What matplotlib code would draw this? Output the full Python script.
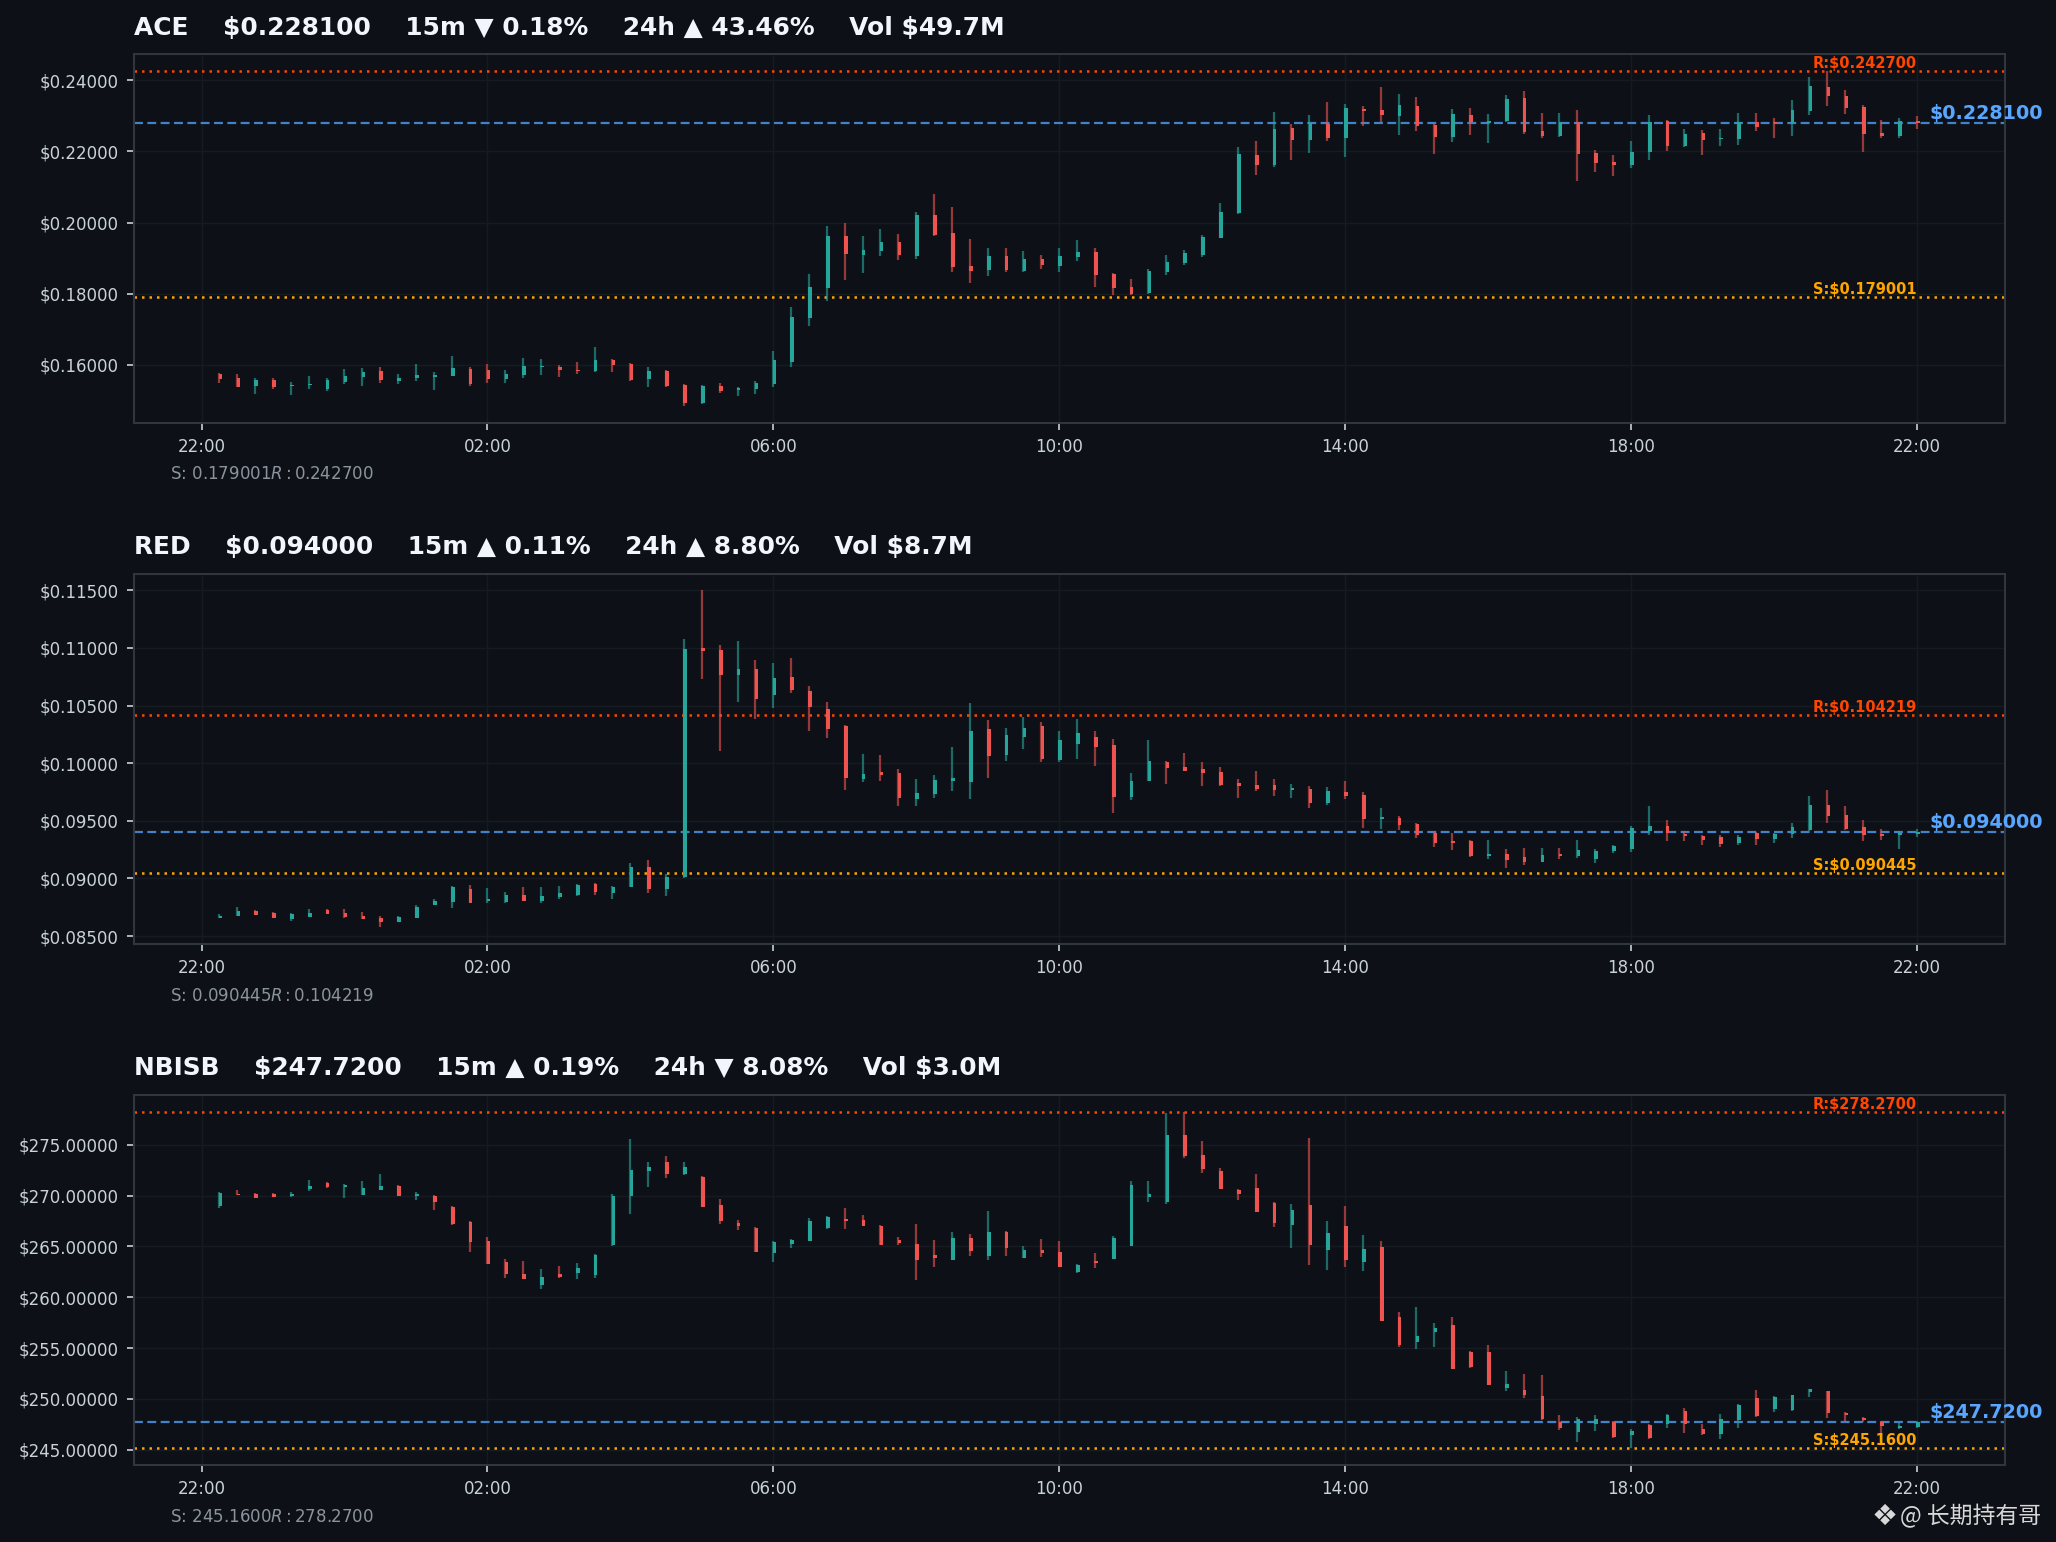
import numpy as np
import pandas as pd
import matplotlib
matplotlib.use("Agg")
import matplotlib.pyplot as plt
import matplotlib.dates as mdates
from matplotlib.ticker import FuncFormatter, MultipleLocator

# 15m candles, 22:15 -> 22:00 next day
times = pd.date_range("2024-01-01 22:15", periods=96, freq="15min")

ace_open = [0.15740, 0.15637, 0.15412, 0.15562, 0.15412, 0.15421, 0.15328, 0.15524, 0.15665, 0.15833,
            0.15552, 0.15637, 0.15665, 0.15693, 0.15889, 0.15861, 0.15609, 0.15721, 0.15945, 0.15945,
            0.15861, 0.15833, 0.16142, 0.16029, 0.15609, 0.15833, 0.15440, 0.14935, 0.15412, 0.15300,
            0.15328, 0.15468, 0.16086, 0.17320, 0.18162, 0.19621, 0.19088, 0.19200, 0.19453, 0.19060,
            0.20211, 0.19706, 0.18780, 0.18667, 0.19060, 0.18639, 0.18976, 0.18780, 0.19032, 0.19172,
            0.18555, 0.18190, 0.18022, 0.18611, 0.18864, 0.19088, 0.19565, 0.20267, 0.21894, 0.21614,
            0.22652, 0.22315, 0.22764, 0.22372, 0.23185, 0.23157, 0.22989, 0.23270, 0.22736, 0.22400,
            0.23017, 0.22792, 0.22849, 0.23494, 0.22568, 0.22428, 0.22821, 0.21951, 0.21698, 0.21614,
            0.21979, 0.22849, 0.22147, 0.22512, 0.22343, 0.22343, 0.22821, 0.22821, 0.22792, 0.23129,
            0.23803, 0.23550, 0.23241, 0.22512, 0.22428, 0.22849]
ace_high = [0.15777, 0.15749, 0.15637, 0.15637, 0.15524, 0.15693, 0.15637, 0.15889, 0.15917, 0.15945,
            0.15749, 0.16029, 0.15805, 0.16254, 0.15945, 0.16029, 0.15861, 0.16197, 0.16169, 0.16001,
            0.16085, 0.16507, 0.16169, 0.16057, 0.15945, 0.15861, 0.15468, 0.15440, 0.15496, 0.15384,
            0.15552, 0.16394, 0.17629, 0.18555, 0.19902, 0.19986, 0.19621, 0.19818, 0.19678, 0.20295,
            0.20800, 0.20435, 0.19537, 0.19285, 0.19285, 0.19200, 0.19088, 0.19285, 0.19509, 0.19285,
            0.18583, 0.18415, 0.18695, 0.19088, 0.19229, 0.19650, 0.20548, 0.22119, 0.22287, 0.23101,
            0.22764, 0.23017, 0.23382, 0.23326, 0.23270, 0.23803, 0.23606, 0.23522, 0.22764, 0.23185,
            0.23213, 0.23045, 0.23578, 0.23690, 0.23073, 0.23073, 0.23157, 0.22035, 0.21894, 0.22287,
            0.23017, 0.22877, 0.22624, 0.22596, 0.22624, 0.23073, 0.23073, 0.22933, 0.23438, 0.24083,
            0.24270, 0.23719, 0.23298, 0.22877, 0.22933, 0.22989]
ace_low = [0.15496, 0.15365, 0.15188, 0.15328, 0.15160, 0.15328, 0.15272, 0.15468, 0.15412, 0.15496,
           0.15468, 0.15552, 0.15300, 0.15693, 0.15412, 0.15496, 0.15496, 0.15637, 0.15721, 0.15665,
           0.15749, 0.15805, 0.15805, 0.15552, 0.15384, 0.15384, 0.14851, 0.14907, 0.15216, 0.15131,
           0.15188, 0.15384, 0.15945, 0.17096, 0.17797, 0.18387, 0.18583, 0.19060, 0.18948, 0.18976,
           0.19621, 0.18611, 0.18303, 0.18499, 0.18611, 0.18611, 0.18695, 0.18611, 0.18920, 0.18190,
           0.17966, 0.17966, 0.17994, 0.18527, 0.18808, 0.19032, 0.19565, 0.20239, 0.21333, 0.21558,
           0.21754, 0.21951, 0.22287, 0.21838, 0.22708, 0.22821, 0.22456, 0.22568, 0.21923, 0.22259,
           0.22456, 0.22231, 0.22821, 0.22484, 0.22372, 0.22400, 0.21165, 0.21417, 0.21305, 0.21530,
           0.21754, 0.22007, 0.22119, 0.21894, 0.22147, 0.22175, 0.22568, 0.22372, 0.22428, 0.23017,
           0.23270, 0.23045, 0.21979, 0.22372, 0.22372, 0.22624]
ace_close = [0.15609, 0.15384, 0.15562, 0.15375, 0.15440, 0.15468, 0.15580, 0.15693, 0.15805, 0.15580,
             0.15637, 0.15721, 0.15721, 0.15917, 0.15468, 0.15609, 0.15749, 0.15973, 0.15973, 0.15861,
             0.15833, 0.16142, 0.16001, 0.15580, 0.15833, 0.15412, 0.14935, 0.15412, 0.15272, 0.15356,
             0.15496, 0.16142, 0.17348, 0.18190, 0.19621, 0.19116, 0.19229, 0.19453, 0.19088, 0.20211,
             0.19650, 0.18752, 0.18639, 0.19060, 0.18667, 0.18976, 0.18808, 0.19060, 0.19172, 0.18527,
             0.18162, 0.17994, 0.18639, 0.18892, 0.19144, 0.19593, 0.20295, 0.21923, 0.21614, 0.22624,
             0.22315, 0.22792, 0.22372, 0.23213, 0.23129, 0.23017, 0.23298, 0.22708, 0.22400, 0.23045,
             0.22821, 0.22849, 0.23466, 0.22540, 0.22428, 0.22821, 0.21923, 0.21670, 0.21614, 0.21979,
             0.22821, 0.22147, 0.22484, 0.22315, 0.22372, 0.22821, 0.22680, 0.22792, 0.23157, 0.23831,
             0.23550, 0.23213, 0.22484, 0.22428, 0.22849, 0.22810]

red_open = [0.08658, 0.08675, 0.08718, 0.08701, 0.08649, 0.08666, 0.08727, 0.08701, 0.08675, 0.08658,
            0.08623, 0.08658, 0.08770, 0.08796, 0.08909, 0.08805, 0.08796, 0.08857, 0.08805, 0.08840,
            0.08857, 0.08952, 0.08874, 0.08926, 0.09100, 0.08909, 0.09013, 0.10997, 0.10979, 0.10763,
            0.10815, 0.10589, 0.10745, 0.10624, 0.10468, 0.10321, 0.09862, 0.09922, 0.09914, 0.09689,
            0.09732, 0.09844, 0.09836, 0.10295, 0.10069, 0.10226, 0.10321, 0.10026, 0.10165, 0.10226,
            0.10156, 0.09706, 0.09844, 0.10010, 0.09966, 0.09948, 0.09922, 0.09827, 0.09810, 0.09810,
            0.09766, 0.09775, 0.09654, 0.09749, 0.09723, 0.09515, 0.09524, 0.09472, 0.09394, 0.09325,
            0.09325, 0.09195, 0.09212, 0.09186, 0.09143, 0.09212, 0.09195, 0.09169, 0.09238, 0.09255,
            0.09411, 0.09455, 0.09385, 0.09368, 0.09359, 0.09307, 0.09394, 0.09342, 0.09385, 0.09420,
            0.09637, 0.09550, 0.09446, 0.09385, 0.09377, 0.09390]
red_high = [0.08692, 0.08753, 0.08727, 0.08710, 0.08701, 0.08736, 0.08736, 0.08736, 0.08710, 0.08675,
            0.08675, 0.08770, 0.08822, 0.08935, 0.08943, 0.08917, 0.08883, 0.08926, 0.08926, 0.08935,
            0.08952, 0.08961, 0.08935, 0.09134, 0.09160, 0.09039, 0.11075, 0.11499, 0.11023, 0.11057,
            0.10893, 0.10867, 0.10910, 0.10667, 0.10529, 0.10330, 0.10078, 0.10069, 0.09948, 0.09862,
            0.09896, 0.10139, 0.10520, 0.10373, 0.10304, 0.10399, 0.10356, 0.10278, 0.10382, 0.10278,
            0.10208, 0.09914, 0.10200, 0.10018, 0.10087, 0.10010, 0.09966, 0.09862, 0.09931, 0.09862,
            0.09818, 0.09801, 0.09792, 0.09844, 0.09749, 0.09610, 0.09541, 0.09481, 0.09403, 0.09394,
            0.09333, 0.09333, 0.09255, 0.09264, 0.09264, 0.09264, 0.09333, 0.09255, 0.09290, 0.09455,
            0.09628, 0.09507, 0.09411, 0.09377, 0.09377, 0.09377, 0.09403, 0.09394, 0.09481, 0.09714,
            0.09766, 0.09628, 0.09507, 0.09429, 0.09411, 0.09429]
red_low = [0.08658, 0.08675, 0.08684, 0.08658, 0.08632, 0.08666, 0.08692, 0.08658, 0.08649, 0.08580,
           0.08623, 0.08658, 0.08770, 0.08744, 0.08788, 0.08788, 0.08788, 0.08805, 0.08788, 0.08822,
           0.08848, 0.08857, 0.08822, 0.08926, 0.08874, 0.08848, 0.09004, 0.10728, 0.10104, 0.10529,
           0.10382, 0.10477, 0.10607, 0.10278, 0.10217, 0.09766, 0.09836, 0.09844, 0.09628, 0.09628,
           0.09697, 0.09758, 0.09689, 0.09870, 0.10018, 0.10122, 0.10010, 0.10010, 0.10035, 0.09974,
           0.09567, 0.09680, 0.09844, 0.09818, 0.09931, 0.09801, 0.09801, 0.09697, 0.09758, 0.09714,
           0.09697, 0.09610, 0.09636, 0.09689, 0.09437, 0.09429, 0.09420, 0.09351, 0.09273, 0.09247,
           0.09186, 0.09169, 0.09091, 0.09117, 0.09143, 0.09169, 0.09177, 0.09134, 0.09221, 0.09229,
           0.09377, 0.09325, 0.09325, 0.09290, 0.09273, 0.09290, 0.09290, 0.09307, 0.09351, 0.09411,
           0.09481, 0.09420, 0.09325, 0.09333, 0.09255, 0.09359]
red_close = [0.08675, 0.08718, 0.08684, 0.08658, 0.08692, 0.08701, 0.08692, 0.08666, 0.08649, 0.08623,
             0.08666, 0.08753, 0.08805, 0.08926, 0.08788, 0.08822, 0.08857, 0.08805, 0.08848, 0.08874,
             0.08943, 0.08883, 0.08926, 0.09100, 0.08909, 0.09013, 0.10988, 0.10971, 0.10763, 0.10815,
             0.10555, 0.10737, 0.10633, 0.10485, 0.10295, 0.09870, 0.09905, 0.09896, 0.09697, 0.09740,
             0.09853, 0.09870, 0.10278, 0.10061, 0.10243, 0.10304, 0.10035, 0.10200, 0.10260, 0.10139,
             0.09706, 0.09844, 0.10018, 0.09957, 0.09931, 0.09914, 0.09810, 0.09801, 0.09775, 0.09766,
             0.09784, 0.09654, 0.09758, 0.09714, 0.09515, 0.09533, 0.09463, 0.09377, 0.09307, 0.09307,
             0.09195, 0.09212, 0.09160, 0.09143, 0.09203, 0.09195, 0.09247, 0.09238, 0.09281, 0.09437,
             0.09455, 0.09394, 0.09368, 0.09333, 0.09299, 0.09359, 0.09342, 0.09385, 0.09446, 0.09637,
             0.09541, 0.09429, 0.09377, 0.09368, 0.09394, 0.09400]

nbisb_open = [269.01, 270.20, 270.20, 270.20, 270.00, 270.69, 271.29, 270.89, 270.10, 270.59,
              270.99, 270.00, 270.00, 268.91, 267.43, 265.55, 263.48, 262.29, 261.20, 262.29,
              262.39, 262.19, 265.16, 270.00, 272.47, 273.36, 272.18, 271.88, 269.11, 267.33,
              266.84, 264.37, 265.26, 265.55, 266.84, 267.73, 267.63, 267.04, 265.65, 265.26,
              264.17, 263.68, 265.85, 264.07, 266.44, 263.87, 264.66, 264.47, 262.49, 263.58,
              263.77, 265.06, 269.90, 269.41, 275.93, 274.05, 272.47, 270.59, 270.79, 269.31,
              267.14, 269.11, 264.66, 267.04, 263.48, 264.96, 258.04, 255.57, 256.56, 257.25,
              254.58, 254.58, 251.12, 250.83, 250.33, 247.76, 246.77, 247.57, 247.76, 246.41,
              247.47, 247.57, 248.85, 247.07, 246.58, 247.96, 250.04, 249.05, 248.95, 250.63,
              250.73, 248.65, 248.16, 247.76, 247.17, 247.25]
nbisb_high = [270.40, 270.59, 270.26, 270.30, 270.40, 271.58, 271.38, 271.19, 271.48, 272.18,
              271.09, 270.40, 270.10, 269.01, 267.53, 265.95, 263.77, 263.58, 262.79, 263.08,
              263.38, 264.27, 270.20, 275.54, 273.36, 273.95, 273.36, 271.98, 269.70, 267.63,
              266.94, 265.55, 265.75, 267.83, 268.02, 268.82, 268.12, 267.14, 265.95, 267.23,
              265.65, 266.44, 266.25, 268.52, 266.54, 265.06, 265.75, 265.55, 263.28, 264.37,
              266.05, 271.48, 271.48, 278.11, 278.27, 275.34, 272.77, 270.69, 272.18, 269.41,
              269.21, 275.63, 267.53, 269.01, 266.15, 265.55, 258.54, 259.03, 257.45, 258.04,
              254.68, 255.27, 252.70, 252.41, 252.31, 248.45, 248.26, 248.45, 247.86, 247.07,
              247.57, 248.55, 249.15, 247.57, 248.55, 249.54, 250.83, 250.33, 250.43, 251.02,
              250.73, 248.75, 248.26, 247.86, 247.66, 247.86]
nbisb_low = [268.82, 270.10, 269.80, 269.90, 269.90, 270.50, 270.79, 269.80, 270.10, 270.59,
             270.00, 269.61, 268.62, 267.14, 264.47, 263.28, 261.90, 261.80, 260.81, 261.90,
             261.80, 261.90, 265.06, 268.22, 270.89, 271.78, 272.08, 268.91, 267.23, 266.64,
             264.47, 263.48, 264.86, 265.55, 266.74, 266.74, 267.04, 265.16, 265.16, 261.70,
             262.98, 263.68, 264.07, 263.68, 264.07, 263.87, 263.97, 262.98, 262.39, 262.89,
             263.77, 265.06, 269.41, 269.21, 273.66, 272.27, 270.69, 269.61, 268.42, 266.94,
             264.86, 263.18, 262.69, 262.98, 262.59, 257.65, 255.08, 254.88, 255.08, 252.90,
             253.03, 251.32, 250.73, 250.04, 247.96, 246.97, 245.79, 246.87, 246.18, 245.16,
             246.08, 247.17, 246.68, 246.48, 246.08, 247.17, 248.26, 248.75, 248.85, 250.14,
             248.16, 247.86, 247.76, 246.58, 247.07, 247.17]
nbisb_close = [270.30, 270.10, 269.80, 269.90, 270.20, 270.99, 270.89, 271.09, 270.79, 270.99,
               270.00, 270.20, 269.41, 267.23, 265.45, 263.28, 262.29, 261.80, 262.00, 262.00,
               262.89, 264.17, 270.00, 272.57, 272.87, 272.18, 272.87, 268.91, 267.53, 267.04,
               264.47, 265.45, 265.65, 267.53, 267.93, 267.53, 267.04, 265.16, 265.36, 263.68,
               263.87, 265.85, 264.56, 266.44, 264.86, 264.66, 264.37, 262.98, 263.18, 263.38,
               265.85, 271.09, 270.20, 275.93, 273.95, 272.67, 270.69, 270.20, 268.42, 267.33,
               268.62, 265.16, 266.34, 263.68, 264.76, 257.65, 255.27, 256.16, 256.95, 252.90,
               253.13, 251.32, 251.42, 250.43, 248.06, 247.17, 248.06, 248.06, 246.28, 246.81,
               246.18, 248.45, 247.57, 246.58, 248.06, 249.44, 248.36, 250.23, 250.43, 250.93,
               248.65, 248.45, 247.96, 247.37, 247.37, 247.72]

symbols = ["ACE", "RED", "NBISB"]
prices = [0.228100, 0.094000, 247.7200]
price_text = ["0.228100", "0.094000", "247.7200"]
chg_15m = ["▼ 0.18%", "▲ 0.11%", "▲ 0.19%"]
chg_24h = ["▲ 43.46%", "▲ 8.80%", "▼ 8.08%"]
volumes = ["$49.7M", "$8.7M", "$3.0M"]
supports = [0.179001, 0.090445, 245.1600]
resistances = [0.242700, 0.104219, 278.2700]
level_text = [("0.179001", "0.242700"), ("0.090445", "0.104219"), ("245.1600", "278.2700")]
ytick_step = [0.02, 0.005, 5.0]

BG = "#0d1117"
UP = "#26a69a"
DOWN = "#ef5350"

fig = plt.figure(figsize=(20.56, 15.42), dpi=100, facecolor=BG)
boxes = [[0.065, 0.726, 0.910, 0.239],
         [0.065, 0.388, 0.910, 0.240],
         [0.065, 0.050, 0.910, 0.240]]

ohlc = [(ace_open, ace_high, ace_low, ace_close),
        (red_open, red_high, red_low, red_close),
        (nbisb_open, nbisb_high, nbisb_low, nbisb_close)]

x = mdates.date2num(times)
bar_w = 15 / 1440 * 0.2

for k in range(3):
    ax = fig.add_axes(boxes[k])
    ax.set_facecolor(BG)
    o, h, l, c = [np.array(a) for a in ohlc[k]]
    up = c >= o
    cols = np.where(up, UP, DOWN)
    rng = h.max() - l.min()

    ax.vlines(x, l, h, colors=cols, linewidth=1.6, alpha=0.6, zorder=3)
    body = np.maximum(np.abs(c - o), rng * 0.003)
    ax.bar(x + bar_w * 0.3, body, bottom=np.minimum(o, c), width=bar_w,
           color=cols, linewidth=0, zorder=4)

    # support / resistance / last price
    ax.axhline(resistances[k], color="#ff4500", linestyle=(0, (1, 2)), linewidth=1.8, zorder=2)
    ax.axhline(supports[k], color="#ffa500", linestyle=(0, (1, 2)), linewidth=1.8, zorder=2)
    ax.axhline(prices[k], color="#4a8fdc", linestyle=(0, (4, 2)), linewidth=1.6, alpha=0.9, zorder=2)

    ax.text(x[-1], resistances[k], "R:$" + level_text[k][1], color="#ff4500",
            fontsize=10.5, fontweight="bold", ha="right", va="bottom", zorder=6)
    ax.text(x[-1], supports[k], "S:$" + level_text[k][0], color="#ffa500",
            fontsize=10.5, fontweight="bold", ha="right", va="bottom", zorder=6)
    ax.text(x[-1] + 11 / 1440, prices[k], "$" + price_text[k], color="#58a6ff",
            fontsize=13.8, fontweight="bold", ha="left", va="bottom", zorder=6,
            clip_on=False)

    title = (symbols[k] + "    \\$" + price_text[k] + "    15m " + chg_15m[k] +
             "    24h " + chg_24h[k] + "    Vol " + volumes[k].replace("$", "\\$"))
    ax.set_title(title, loc="left", color="#f0f6fc", fontsize=17.9,
                 fontweight="bold", pad=14)

    ax.text(0.0197, -0.14, "S: $" + level_text[k][0] + "  R: $" + level_text[k][1],
            transform=ax.transAxes, color="#8b949e", fontsize=12, va="center")

    ax.xaxis.set_major_locator(mdates.HourLocator(byhour=[2, 6, 10, 14, 18, 22]))
    ax.xaxis.set_major_formatter(mdates.DateFormatter("%H:%M"))
    ax.yaxis.set_major_locator(MultipleLocator(ytick_step[k]))
    ax.yaxis.set_major_formatter(FuncFormatter(lambda v, p: f"${v:.5f}"))
    ax.margins(x=0.05, y=0.05)

    ax.tick_params(colors="#c9d1d9", labelsize=12, length=5, width=1.2, pad=6)
    ax.grid(True, color="#161b22", linewidth=1.0, zorder=0)
    for s in ax.spines.values():
        s.set_color("#30363d")
        s.set_linewidth(1.5)

fig.text(0.9165, 0.0165, "❖", color="#d8d8d8", fontsize=21, ha="center", va="center")
fig.text(0.993, 0.0165, "@ 长期持有哥", color="#d8d8d8", fontsize=16.5,
         ha="right", va="center", family=["Noto Sans CJK SC", "DejaVu Sans"])

fig.savefig("out.png", dpi=100, facecolor=BG)
